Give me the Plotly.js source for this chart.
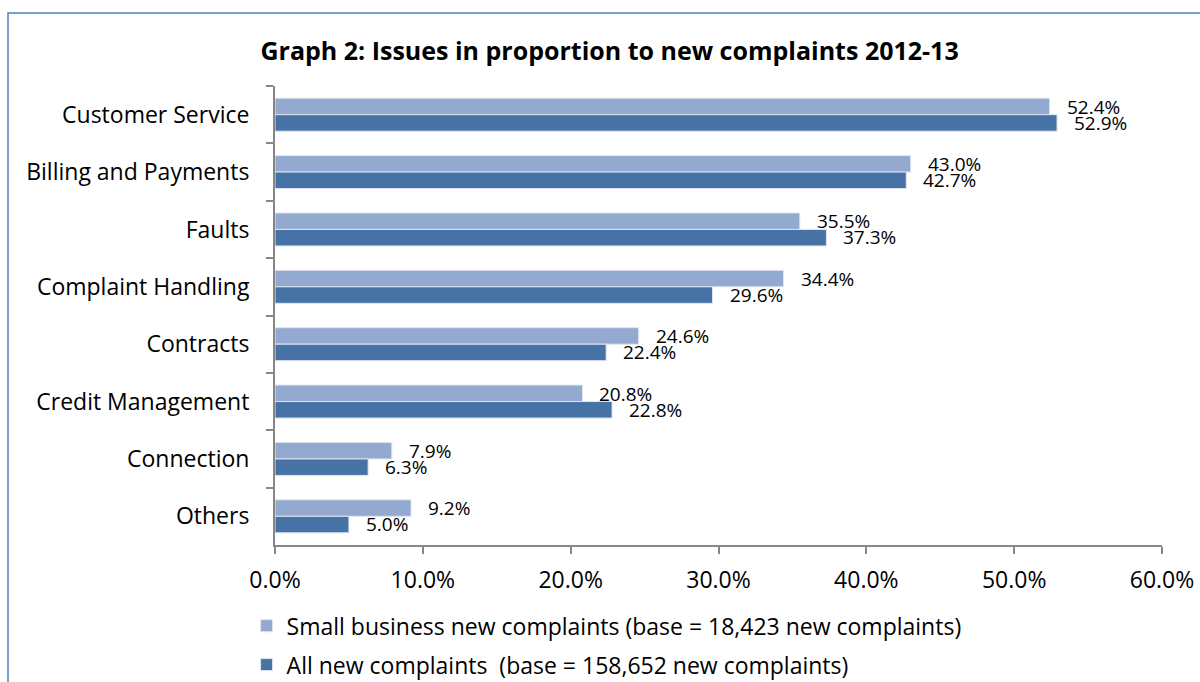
<!DOCTYPE html>
<html>
<head>
<meta charset="utf-8">
<script src="https://cdn.plot.ly/plotly-3.0.1.min.js"></script>
<style>html,body{margin:0;padding:0;background:#fff;}#chart{width:1200px;height:682px;}</style>
</head>
<body>
<div id="chart"></div>
<script>
const categories = ["Customer Service","Billing and Payments","Faults","Complaint Handling","Contracts","Credit Management","Connection","Others"];
const smallBusiness = [52.4, 43.0, 35.5, 34.4, 24.6, 20.8, 7.9, 9.2];
const allComplaints = [52.9, 42.7, 37.3, 29.6, 22.4, 22.8, 6.3, 5.0];
const seriesNames = ["Small business new complaints (base = 18,423 new complaints)", "All new complaints  (base = 158,652 new complaints)"];
const xTicks = [0, 10, 20, 30, 40, 50, 60];
const xTickLabels = ["0.0%", "10.0%", "20.0%", "30.0%", "40.0%", "50.0%", "60.0%"];

const FONT = "'Open Sans', 'Liberation Sans', sans-serif";
const colors = ["#93A9D0", "#4672A6"];

const traces = [smallBusiness, allComplaints].map((vals, i) => ({
  type: "bar",
  orientation: "h",
  y: categories,
  x: vals,
  name: seriesNames[i],
  legendgroup: "g" + i,
  marker: {color: colors[i], line: {color: "#dfe5f1", width: 1}},
  hoverinfo: "x+y"
}));

const annotations = [];
[smallBusiness, allComplaints].forEach((vals, i) => {
  vals.forEach((v, j) => {
    annotations.push({
      x: v, y: categories[j], xref: "x", yref: "y",
      text: v.toFixed(1) + "%",
      showarrow: false, xanchor: "left", yanchor: "middle",
      xshift: 15, yshift: i === 0 ? 8 : -8,
      font: {family: FONT, size: 19, color: "#000"}
    });
  });
});

const layout = {
  width: 1200, height: 682,
  paper_bgcolor: "#fff", plot_bgcolor: "#fff",
  margin: {l: 275, r: 38, t: 86, b: 137, autoexpand: false},
  barmode: "group",
  bargap: 0.425,
  bargroupgap: 0,
  title: {
    text: "Graph 2: Issues in proportion to new complaints 2012-13",
    font: {family: FONT, size: 25, color: "#000", weight: "bold"},
    xref: "container", x: 0.508, xanchor: "center",
    yref: "container", y: 0.925, yanchor: "middle"
  },
  xaxis: {
    range: [0, 60], tickmode: "array", tickvals: xTicks, ticktext: xTickLabels,
    automargin: false,
    showgrid: false, zeroline: false,
    showline: true, linecolor: "#868686", linewidth: 2,
    ticks: "outside", ticklen: 7, tickcolor: "#868686", tickwidth: 2,
    ticklabelstandoff: 6,
    tickfont: {family: FONT, size: 23, color: "#000"},
    fixedrange: true
  },
  yaxis: {
    type: "category", autorange: "reversed",
    automargin: false,
    showgrid: false, zeroline: false,
    showline: true, linecolor: "#868686", linewidth: 2,
    ticks: "outside", ticklen: 7, tickcolor: "#868686", tickwidth: 2,
    tickson: "boundaries",
    ticklabelstandoff: 19,
    tickfont: {family: FONT, size: 23, color: "#000"},
    fixedrange: true
  },
  legend: {
    xref: "container", yref: "container",
    x: 0.2055, xanchor: "left", y: 0.114, yanchor: "top",
    orientation: "v", traceorder: "grouped",
    font: {family: FONT, size: 23, color: "#000"},
    tracegroupgap: 6,
    bgcolor: "rgba(0,0,0,0)",
    itemwidth: 30
  },
  annotations: annotations,
  shapes: [{
    type: "rect", xref: "paper", yref: "paper",
    x0: -0.301, x1: 1.2, y0: -0.5, y1: 1.159,
    line: {color: "#4F81BD", width: 1.5}, fillcolor: "rgba(0,0,0,0)"
  }]
};

Plotly.newPlot("chart", traces, layout, {displayModeBar: false, staticPlot: true});
</script>
</body>
</html>
